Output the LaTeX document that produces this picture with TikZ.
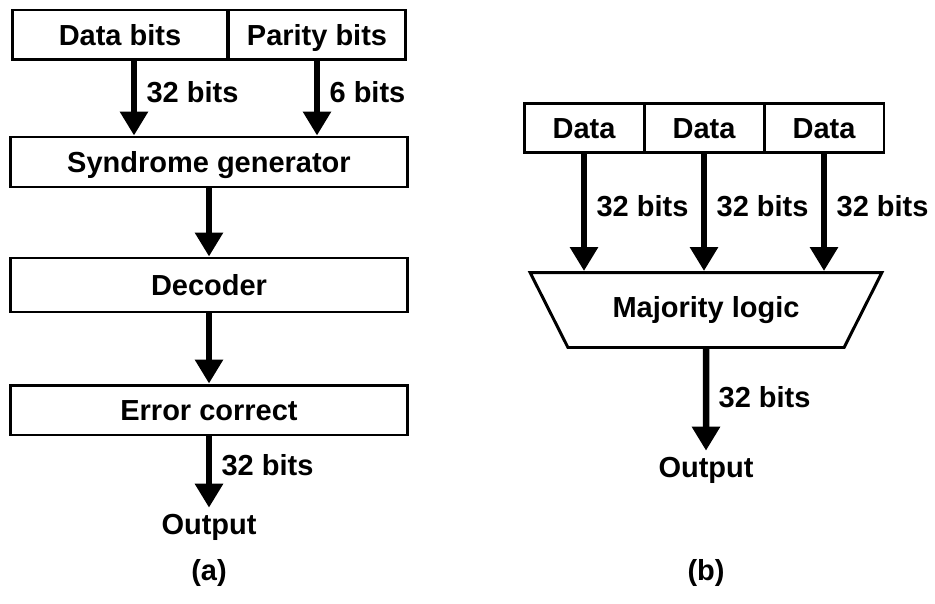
\documentclass[tikz,border=0pt]{standalone}
\usepackage{fontspec}
\setmainfont{Liberation Sans}
\usepackage{tikz}
\usetikzlibrary{arrows.meta,positioning,shapes.geometric}

\begin{document}
\begin{tikzpicture}[x=0.02cm, y=-0.02cm,
  txt/.style={font=\fontsize{16.5}{19}\selectfont\bfseries},
  blk/.style={draw, line width=1.7pt, inner sep=0pt, minimum height=1.0cm, text height=11.5pt, text depth=0pt, txt},
  arr/.style={-{Triangle[length=0.48cm, width=0.54cm]}, line width=0.13cm},
  bits/.style={right, txt, xshift=2pt}]
\useasboundingbox (0,0) rectangle (935,604);
% (a) Hamming code
\node[blk, minimum width=4.32cm] (datab) at (120,35) {Data bits};
\node[blk, minimum width=3.56cm] (parity) at (317,35) {Parity bits};
\node[blk, minimum width=7.96cm] (syn) at (209,162) {Syndrome generator};
\node[blk, minimum width=7.96cm, minimum height=1.08cm] (dec) at (209,285) {Decoder};
\node[blk, minimum width=7.96cm] (err) at (209,410) {Error correct};
\node[txt] (outa) at (209,527) {Output};
\node[txt] (capa) at (209,573) {(a)};
\draw[arr] ([xshift=0.28cm]datab.south) -- node[bits, pos=0.42]{32 bits} ([xshift=0.28cm]datab.south |- syn.north);
\draw[arr] (parity.south) -- node[bits, pos=0.42]{6 bits} (parity.south |- syn.north);
\draw[arr] (syn.south) -- (dec.north);
\draw[arr] (dec.south) -- (err.north);
\draw[arr] (err.south) -- node[bits, pos=0.4]{32 bits} (outa.north);
% (b) TMR
\node[blk, minimum width=2.4cm, minimum height=0.98cm] (d1) at (584,128) {Data};
\node[blk, minimum width=2.4cm, minimum height=0.98cm] (d2) at (704,128) {Data};
\node[blk, minimum width=2.4cm, minimum height=0.98cm] (d3) at (824,128) {Data};
\node[draw, line width=1.7pt, trapezium, shape border rotate=180, trapezium angle=55,
  trapezium stretches=true, minimum width=7.04cm, minimum height=1.5cm, txt] (maj) at (706,310) {Majority logic};
\node[txt] (outb) at (706,470) {Output};
\node[txt] (capb) at (706,573) {(b)};
\foreach \d in {d1,d2,d3}
  \draw[arr] (\d.south) -- node[bits, pos=0.45]{32 bits} (\d.south |- maj.north);
\draw[arr] (maj.south) -- node[bits, pos=0.47]{32 bits} (outb.north);
\end{tikzpicture}
\end{document}
